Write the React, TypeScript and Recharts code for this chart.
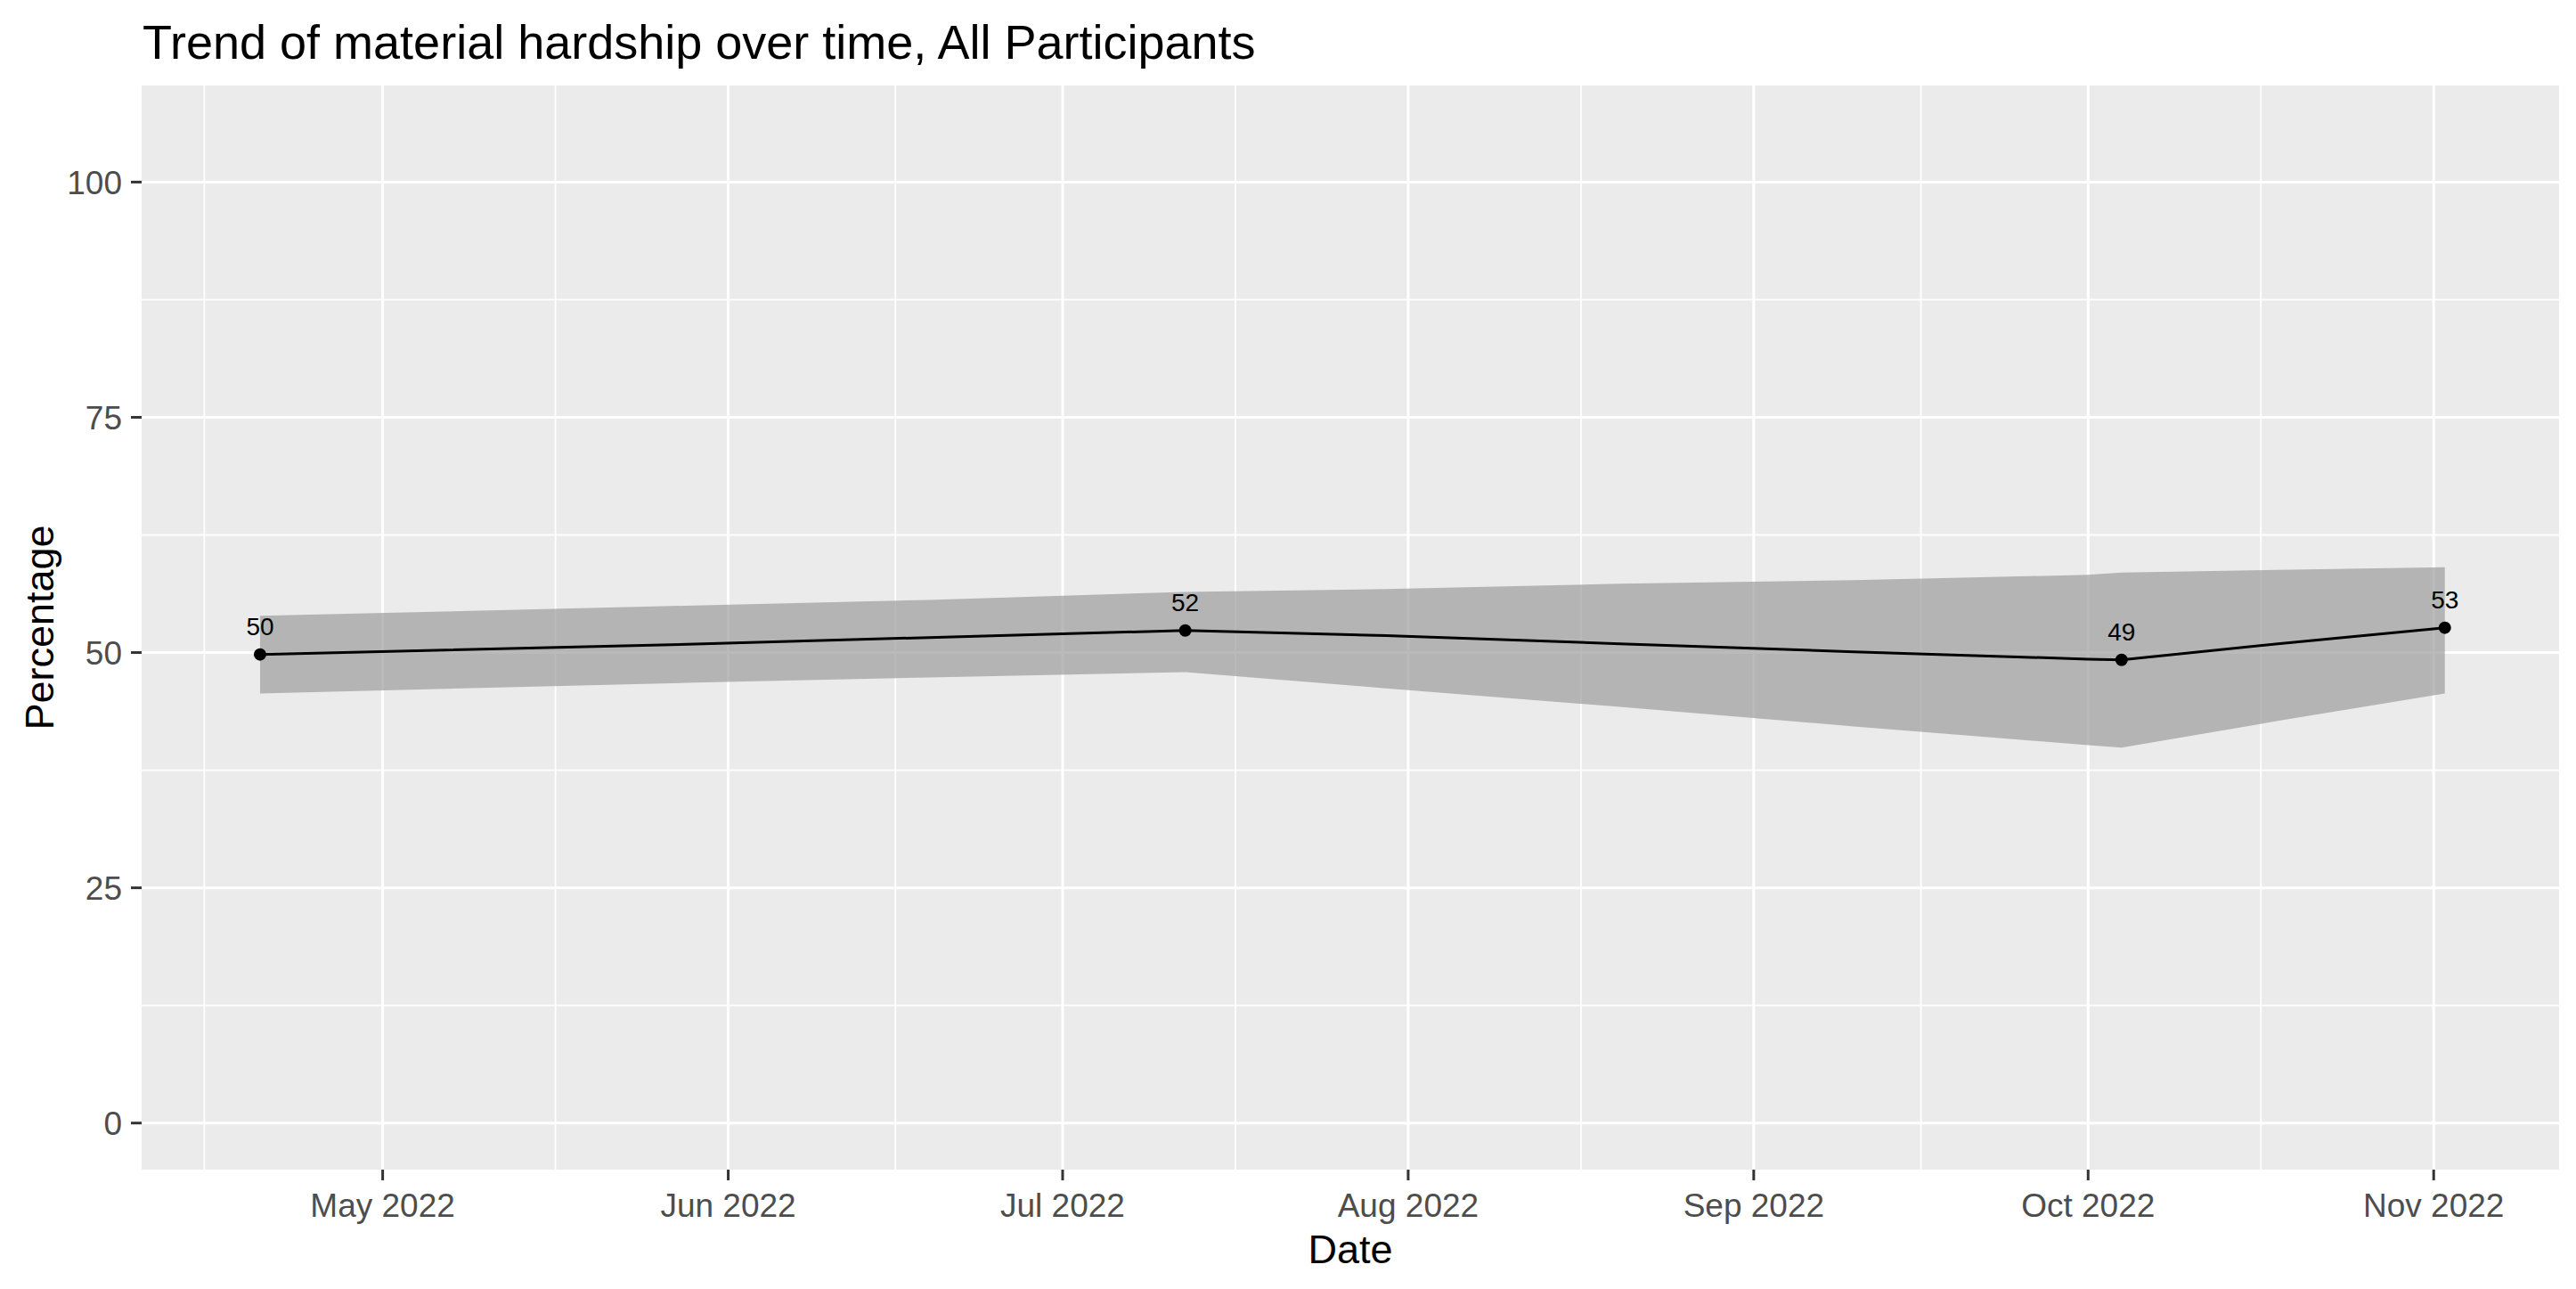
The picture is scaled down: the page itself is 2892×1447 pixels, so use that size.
import React from "react";
import {
  ComposedChart,
  XAxis,
  YAxis,
  CartesianGrid,
  Area,
  Line,
  Scatter,
} from "recharts";

const FONT = '"Liberation Sans", Arial, Helvetica, sans-serif';

// loess fit + confidence band
const smoothDates = [
  "2022-04-20", "2022-05-29", "2022-06-19", "2022-07-12", "2022-07-30",
  "2022-08-20", "2022-09-10", "2022-10-01", "2022-10-04", "2022-10-18",
  "2022-11-02",
];
const smoothFit = [49.8, 50.9, 51.6, 52.35, 51.8, 50.93, 50.08, 49.3, 49.23, 50.93, 52.64];
const smoothLower = [45.65, 46.8, 47.36, 47.93, 46.2, 44.23, 42.15, 40.16, 39.9, 42.73, 45.65];
const smoothUpper = [53.9, 55.0, 55.6, 56.45, 56.74, 57.31, 57.69, 58.26, 58.5, 58.78, 59.07];

// observed survey waves
const pointDates = ["2022-04-20", "2022-07-12", "2022-10-04", "2022-11-02"];
const pointValues = [49.8, 52.35, 49.23, 52.64];
const pointLabels = ["50", "52", "49", "53"];

const monthTicks = [
  "2022-05-01", "2022-06-01", "2022-07-01", "2022-08-01",
  "2022-09-01", "2022-10-01", "2022-11-01",
];
const monthLabels = [
  "May 2022", "Jun 2022", "Jul 2022", "Aug 2022",
  "Sep 2022", "Oct 2022", "Nov 2022",
];
const yTicks = [0, 25, 50, 75, 100];
const yMinor = [12.5, 37.5, 62.5, 87.5];

const ts = (s: string) => Date.parse(s + "T00:00:00Z");

const smoothData = smoothDates.map((d, i) => ({
  t: ts(d),
  fit: smoothFit[i],
  lo: smoothLower[i],
  hi: smoothUpper[i],
}));

const pointData = pointDates.map((d, i) => ({
  t: ts(d),
  v: pointValues[i],
  label: pointLabels[i],
}));

const majorX = monthTicks.map(ts);
// minor breaks sit halfway between month starts (first one mid-April)
const minorX = [
  ts("2022-04-15"),
  ...majorX.slice(1).map((m, i) => (m + majorX[i]) / 2),
];

const xDomain = [Date.UTC(2022, 3, 9, 9), Date.UTC(2022, 10, 12, 6)];

const labelFor = (v: number) => monthLabels[majorX.indexOf(v)] ?? "";

const PointShape = (props: any) => {
  const { cx, cy, payload } = props;
  return (
    <g>
      <circle cx={cx} cy={cy} r={7} fill="#000" />
      <text
        x={cx}
        y={cy - 22}
        textAnchor="middle"
        fontSize={28}
        fontFamily={FONT}
        fill="#000"
      >
        {payload.label}
      </text>
    </g>
  );
};

export default function App() {
  const tickStyle = { fill: "#4D4D4D", fontSize: 37, fontFamily: FONT };
  const tickLine = { stroke: "#333333", strokeWidth: 3 };

  return (
    <div
      style={{
        position: "absolute",
        left: 0,
        top: 0,
        width: 2892,
        height: 1447,
        background: "#fff",
      }}
    >
      <div
        style={{
          position: "absolute",
          left: 160,
          top: 20,
          fontFamily: FONT,
          fontSize: 54,
          lineHeight: "54px",
          color: "#000",
          whiteSpace: "nowrap",
        }}
      >
        Trend of material hardship over time, All Participants
      </div>
      <ComposedChart
        width={2892}
        height={1447}
        data={smoothData}
        margin={{ top: 96, right: 19, bottom: 0, left: 0 }}
      >
        <CartesianGrid
          fill="#EBEBEB"
          fillOpacity={1}
          stroke="#FFFFFF"
          strokeWidth={1.8}
          horizontalValues={yMinor}
          verticalValues={minorX}
        />
        <CartesianGrid
          stroke="#FFFFFF"
          strokeWidth={3}
          horizontalValues={yTicks}
          verticalValues={majorX}
        />
        <XAxis
          dataKey="t"
          type="number"
          domain={xDomain}
          allowDataOverflow
          ticks={majorX}
          tickFormatter={labelFor}
          height={134}
          axisLine={false}
          tickLine={tickLine}
          tickSize={12}
          tickMargin={15}
          tick={tickStyle}
          interval={0}
          label={{
            value: "Date",
            position: "insideBottom",
            offset: 29,
            fontSize: 45,
            fontFamily: FONT,
            fill: "#000",
          }}
        />
        <YAxis
          type="number"
          domain={[-4.95, 110.26]}
          allowDataOverflow
          ticks={yTicks}
          width={159}
          axisLine={false}
          tickLine={tickLine}
          tickSize={12}
          tickMargin={10}
          tick={tickStyle}
          interval={0}
          label={{
            content: (p: any) => {
              const vb = p.viewBox || {};
              const cy = (vb.y ?? 96) + (vb.height ?? 1217) / 2;
              const x = 60;
              return (
                <text
                  x={x}
                  y={cy}
                  transform={`rotate(-90 ${x} ${cy})`}
                  textAnchor="middle"
                  fontSize={45}
                  fontFamily={FONT}
                  fill="#000"
                >
                  Percentage
                </text>
              );
            },
          }}
        />
        <Area
          type="linear"
          dataKey={(d: any) => [d.lo, d.hi]}
          stroke="none"
          fill="#999999"
          fillOpacity={0.68}
          isAnimationActive={false}
        />
        <Line
          type="linear"
          dataKey="fit"
          stroke="#000"
          strokeWidth={3}
          dot={false}
          activeDot={false}
          isAnimationActive={false}
        />
        <Scatter
          data={pointData}
          dataKey="v"
          shape={PointShape}
          isAnimationActive={false}
        />
      </ComposedChart>
    </div>
  );
}
